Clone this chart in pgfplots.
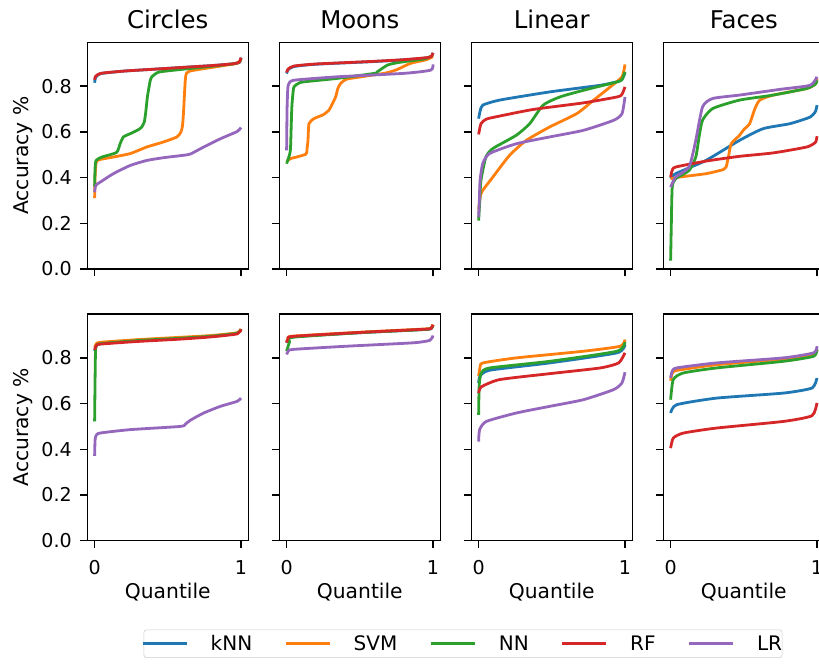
\documentclass[border=0pt]{standalone}
\usepackage{fontspec}
\setmainfont{DejaVu Sans}
\usepackage{pgfplots}
\pgfplotsset{compat=1.18}

\definecolor{cknn}{RGB}{31,119,180}
\definecolor{csvm}{RGB}{255,127,14}
\definecolor{cnn}{RGB}{44,160,44}
\definecolor{crf}{RGB}{214,39,40}
\definecolor{clr}{RGB}{148,103,189}

\pgfplotsset{
  panel/.style={
    scale only axis, width=120.75pt, height=170.025pt,
    anchor=south west,
    xmin=-0.05, xmax=1.05, ymin=0, ymax=0.992,
    xtick={0,1}, xticklabels={},
    ytick={0,0.2,0.4,0.6,0.8}, yticklabels={},
    tick pos=left, tick align=outside, major tick length=5.5pt,
    axis line style={line width=1.1pt},
    every tick/.style={line width=1.1pt, black},
    tick label style={font=\fontsize{14.3}{16}\selectfont},
    yticklabel style={inner sep=0pt, anchor=east, xshift=-6pt},
    xticklabel style={inner sep=0pt, anchor=north, text height=10.4pt, text depth=0pt, yshift=-9.5pt},
    every axis y label/.style={at={(axis description cs:-0.368,0.5)}, rotate=90, anchor=base,
      font=\fontsize{15.2}{18}\selectfont},
    every axis x label/.style={at={(axis description cs:0.5,-0.254)}, anchor=base,
      font=\fontsize{15.2}{18}\selectfont},
    title style={font=\fontsize{18.3}{22}\selectfont, at={(axis description cs:0.5,1.024)}, anchor=base},
    every axis plot/.append style={line width=2.1pt, no marks, line join=round, smooth, tension=0.35},
    legend image code/.code={\draw[##1, line width=2.1pt] (0pt,0pt) -- (33pt,0pt);},
  },
  firstcol/.style={yticklabels={0.0,0.2,0.4,0.6,0.8}, ylabel={Accuracy \%}},
  botrow/.style={xticklabels={0,1}, xlabel={Quantile}},
}

\begin{document}
\begin{tikzpicture}
\path[use as bounding box] (0,0) rectangle (614.25pt,498.75pt);

% ---------- top row ----------
\begin{axis}[panel, firstcol, at={(65.475pt,297pt)}, title={Circles}]
\addplot[cknn] coordinates {(0,0.815)(0.005,0.835)(0.02,0.848)(0.05,0.856)(0.2,0.866)(0.4,0.874)(0.6,0.882)(0.8,0.89)(0.95,0.898)(0.99,0.905)(1,0.925)};
\addplot[csvm] coordinates {(0,0.31)(0.003,0.40)(0.01,0.465)(0.03,0.478)(0.128,0.49)(0.243,0.505)(0.357,0.534)(0.471,0.556)(0.563,0.578)(0.59,0.60)(0.600,0.625)(0.607,0.68)(0.613,0.753)(0.620,0.83)(0.627,0.856)(0.65,0.866)(0.7,0.872)(0.8,0.882)(0.9,0.892)(0.98,0.902)(1,0.92)};
\addplot[cnn] coordinates {(0,0.36)(0.003,0.44)(0.01,0.475)(0.05,0.49)(0.15,0.51)(0.174,0.548)(0.197,0.578)(0.243,0.592)(0.30,0.61)(0.323,0.622)(0.340,0.645)(0.350,0.69)(0.360,0.75)(0.368,0.782)(0.38,0.825)(0.391,0.841)(0.42,0.856)(0.449,0.863)(0.586,0.873)(0.8,0.887)(0.95,0.898)(0.99,0.905)(1,0.92)};
\addplot[crf] coordinates {(0,0.828)(0.005,0.842)(0.02,0.85)(0.05,0.857)(0.2,0.866)(0.4,0.874)(0.6,0.882)(0.8,0.89)(0.95,0.898)(0.99,0.906)(1,0.925)};
\addplot[clr] coordinates {(0,0.336)(0.005,0.36)(0.014,0.37)(0.05,0.385)(0.128,0.417)(0.243,0.453)(0.357,0.475)(0.471,0.487)(0.6,0.497)(0.654,0.503)(0.746,0.534)(0.86,0.570)(0.975,0.602)(1,0.619)};
\end{axis}

\begin{axis}[panel, at={(209.475pt,297pt)}, title={Moons}]
\addplot[cknn] coordinates {(0,0.855)(0.01,0.872)(0.05,0.886)(0.2,0.896)(0.574,0.907)(0.8,0.915)(0.961,0.924)(0.99,0.93)(1,0.946)};
\addplot[csvm] coordinates {(0,0.471)(0.027,0.483)(0.13,0.502)(0.140,0.53)(0.146,0.563)(0.153,0.636)(0.187,0.658)(0.25,0.675)(0.289,0.695)(0.31,0.72)(0.335,0.753)(0.35,0.79)(0.369,0.812)(0.40,0.828)(0.437,0.834)(0.665,0.856)(0.72,0.865)(0.756,0.873)(0.847,0.90)(0.95,0.915)(1,0.929)};
\addplot[cnn] coordinates {(0,0.461)(0.02,0.5)(0.027,0.534)(0.035,0.7)(0.042,0.76)(0.05,0.797)(0.08,0.812)(0.118,0.819)(0.346,0.834)(0.60,0.856)(0.62,0.863)(0.688,0.892)(0.75,0.902)(0.847,0.911)(0.95,0.92)(1,0.936)};
\addplot[crf] coordinates {(0,0.86)(0.01,0.875)(0.05,0.888)(0.2,0.897)(0.574,0.908)(0.8,0.916)(0.961,0.925)(0.99,0.931)(1,0.946)};
\addplot[clr] coordinates {(0,0.519)(0.003,0.7)(0.008,0.79)(0.015,0.81)(0.05,0.826)(0.346,0.841)(0.80,0.856)(0.984,0.870)(1,0.895)};
\end{axis}

\begin{axis}[panel, at={(353.475pt,297pt)}, title={Linear}]
\addplot[cknn] coordinates {(0,0.658)(0.01,0.69)(0.028,0.717)(0.143,0.739)(0.487,0.775)(0.832,0.804)(0.95,0.82)(0.98,0.83)(1,0.858)};
\addplot[csvm] coordinates {(0,0.26)(0.012,0.32)(0.028,0.344)(0.097,0.402)(0.211,0.497)(0.326,0.563)(0.487,0.622)(0.671,0.680)(0.786,0.739)(0.90,0.797)(0.98,0.841)(1,0.895)};
\addplot[cnn] coordinates {(0,0.212)(0.008,0.3)(0.016,0.388)(0.05,0.49)(0.097,0.527)(0.257,0.585)(0.349,0.636)(0.441,0.717)(0.556,0.753)(0.717,0.782)(0.947,0.819)(0.98,0.83)(1,0.863)};
\addplot[crf] coordinates {(0,0.589)(0.016,0.636)(0.05,0.655)(0.097,0.663)(0.372,0.698)(0.717,0.727)(0.947,0.753)(0.98,0.765)(1,0.797)};
\addplot[clr] coordinates {(0,0.227)(0.005,0.3)(0.01,0.388)(0.028,0.461)(0.074,0.505)(0.257,0.548)(0.487,0.578)(0.717,0.607)(0.924,0.651)(0.98,0.680)(1,0.753)};
\end{axis}

\begin{axis}[panel, at={(497.475pt,297pt)}, title={Faces}]
\addplot[cknn] coordinates {(0,0.395)(0.034,0.417)(0.241,0.475)(0.471,0.563)(0.632,0.614)(0.816,0.636)(0.954,0.665)(0.99,0.69)(1,0.717)};
\addplot[csvm] coordinates {(0,0.395)(0.057,0.402)(0.241,0.417)(0.36,0.435)(0.379,0.446)(0.395,0.49)(0.414,0.548)(0.471,0.585)(0.50,0.61)(0.54,0.636)(0.575,0.70)(0.609,0.739)(0.701,0.761)(0.931,0.79)(0.99,0.81)(1,0.834)};
\addplot[cnn] coordinates {(0,0.037)(0.005,0.2)(0.011,0.358)(0.034,0.395)(0.126,0.431)(0.172,0.49)(0.195,0.58)(0.218,0.651)(0.287,0.702)(0.471,0.739)(0.701,0.761)(0.931,0.79)(0.99,0.81)(1,0.826)};
\addplot[crf] coordinates {(0,0.402)(0.01,0.43)(0.034,0.446)(0.241,0.472)(0.471,0.493)(0.701,0.508)(0.931,0.534)(0.99,0.555)(1,0.581)};
\addplot[clr] coordinates {(0,0.358)(0.034,0.402)(0.126,0.446)(0.172,0.563)(0.218,0.709)(0.287,0.746)(0.471,0.761)(0.747,0.786)(0.954,0.804)(1,0.841)};
\end{axis}

% ---------- bottom row ----------
\begin{axis}[panel, firstcol, botrow, at={(65.475pt,93.225pt)}]
\addplot[cknn] coordinates {(0,0.83)(0.01,0.85)(0.037,0.862)(0.3,0.876)(0.586,0.886)(0.8,0.895)(0.975,0.908)(1,0.925)};
\addplot[csvm] coordinates {(0,0.845)(0.01,0.86)(0.037,0.868)(0.3,0.88)(0.586,0.89)(0.8,0.898)(0.975,0.91)(1,0.927)};
\addplot[cnn] coordinates {(0,0.522)(0.003,0.7)(0.006,0.83)(0.01,0.85)(0.037,0.862)(0.3,0.876)(0.586,0.886)(0.8,0.895)(0.975,0.908)(1,0.925)};
\addplot[crf] coordinates {(0,0.835)(0.01,0.852)(0.037,0.86)(0.3,0.872)(0.586,0.882)(0.8,0.892)(0.975,0.905)(1,0.925)};
\addplot[clr] coordinates {(0,0.371)(0.003,0.44)(0.01,0.46)(0.037,0.471)(0.243,0.486)(0.586,0.50)(0.62,0.51)(0.654,0.527)(0.746,0.559)(0.86,0.588)(0.975,0.61)(1,0.624)};
\end{axis}

\begin{axis}[panel, botrow, at={(209.475pt,93.225pt)}]
\addplot[cknn] coordinates {(0,0.866)(0.01,0.883)(0.043,0.893)(0.524,0.911)(0.959,0.925)(0.99,0.931)(1,0.944)};
\addplot[csvm] coordinates {(0,0.869)(0.01,0.885)(0.043,0.895)(0.524,0.913)(0.959,0.927)(0.99,0.933)(1,0.946)};
\addplot[cnn] coordinates {(0,0.829)(0.02,0.87)(0.043,0.89)(0.524,0.911)(0.959,0.925)(1,0.942)};
\addplot[crf] coordinates {(0,0.867)(0.01,0.884)(0.043,0.894)(0.524,0.912)(0.959,0.926)(0.99,0.932)(1,0.945)};
\addplot[clr] coordinates {(0,0.815)(0.01,0.828)(0.043,0.837)(0.41,0.851)(0.867,0.866)(0.98,0.877)(1,0.898)};
\end{axis}

\begin{axis}[panel, botrow, at={(353.475pt,93.225pt)}]
\addplot[cknn] coordinates {(0,0.69)(0.01,0.72)(0.076,0.746)(0.487,0.778)(0.945,0.822)(1,0.858)};
\addplot[csvm] coordinates {(0,0.72)(0.01,0.76)(0.03,0.778)(0.259,0.80)(0.716,0.829)(0.968,0.851)(1,0.880)};
\addplot[cnn] coordinates {(0,0.551)(0.004,0.68)(0.018,0.734)(0.076,0.756)(0.487,0.785)(0.945,0.829)(1,0.869)};
\addplot[crf] coordinates {(0,0.646)(0.018,0.673)(0.144,0.705)(0.487,0.731)(0.831,0.756)(0.957,0.778)(1,0.822)};
\addplot[clr] coordinates {(0,0.434)(0.007,0.486)(0.053,0.522)(0.259,0.559)(0.487,0.588)(0.716,0.617)(0.922,0.661)(0.979,0.69)(1,0.737)};
\end{axis}

\begin{axis}[panel, botrow, at={(497.475pt,93.225pt)},
  legend columns=5,
  legend style={at={(axis description cs:-1.244,-0.392)}, anchor=north,
    draw=black!20, rounded corners=2pt, inner xsep=-2pt, inner ysep=2pt,
    font=\fontsize{15}{18}\selectfont,
    /tikz/every odd column/.append style={column sep=15pt},
    /tikz/every even column/.append style={column sep=22pt}},
]
\addplot[cknn] coordinates {(0,0.559)(0.041,0.595)(0.315,0.624)(0.772,0.646)(0.966,0.668)(1,0.712)};
\addplot[csvm] coordinates {(0,0.70)(0.01,0.73)(0.041,0.745)(0.315,0.77)(0.772,0.795)(0.977,0.815)(1,0.835)};
\addplot[cnn] coordinates {(0,0.617)(0.018,0.705)(0.087,0.734)(0.315,0.756)(0.772,0.785)(0.977,0.807)(1,0.837)};
\addplot[crf] coordinates {(0,0.405)(0.018,0.449)(0.087,0.471)(0.315,0.493)(0.772,0.522)(0.966,0.547)(1,0.603)};
\addplot[clr] coordinates {(0,0.712)(0.01,0.74)(0.041,0.756)(0.315,0.778)(0.772,0.80)(0.977,0.822)(1,0.851)};
\legend{kNN,SVM,NN,RF,LR}
\end{axis}
\end{tikzpicture}
\end{document}
